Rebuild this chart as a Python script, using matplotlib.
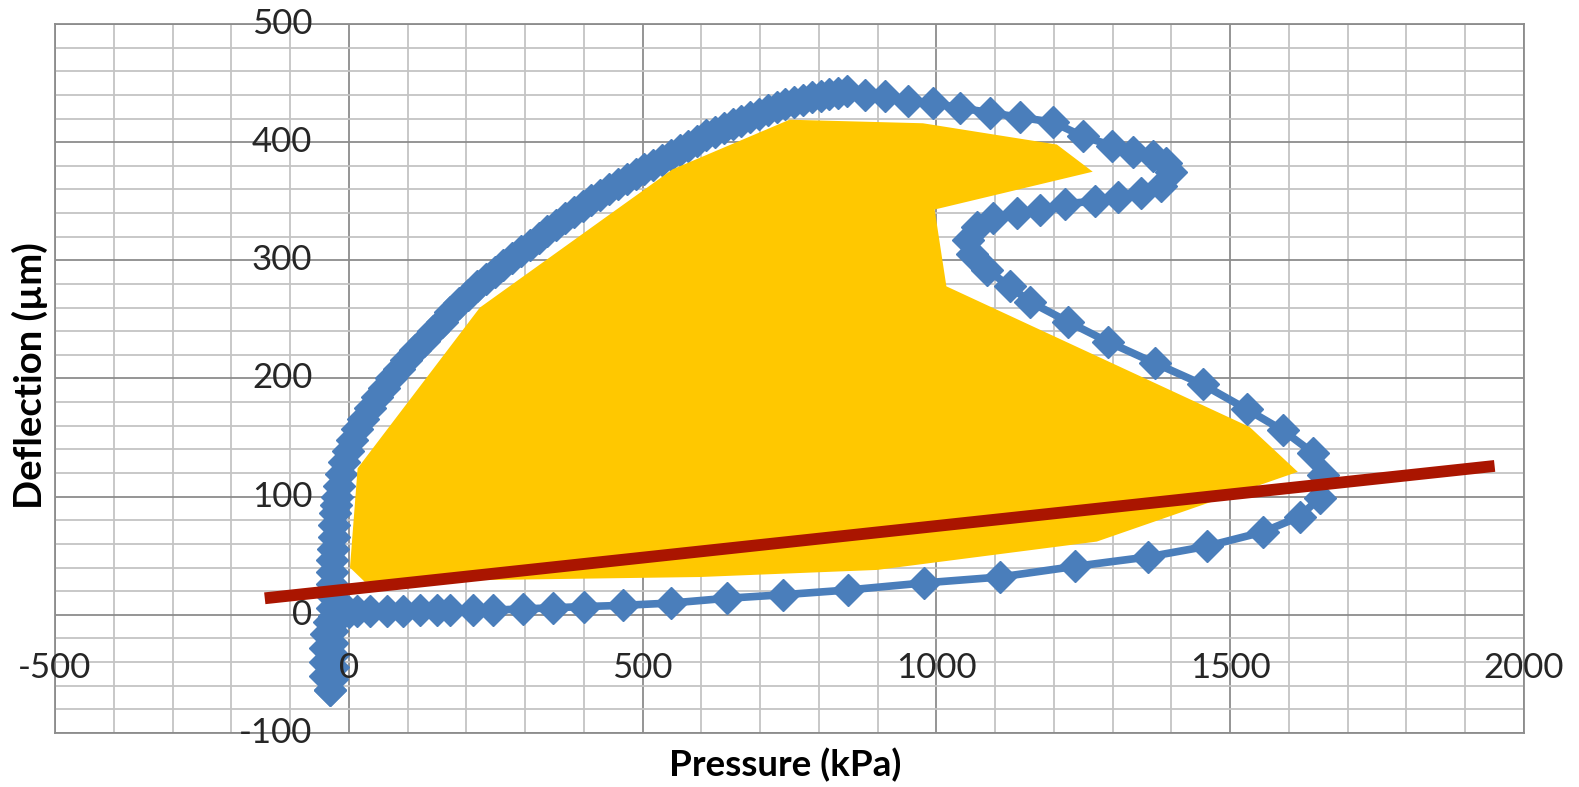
import matplotlib
matplotlib.use("Agg")
import matplotlib.pyplot as plt
from matplotlib.ticker import MultipleLocator

# ---- data -------------------------------------------------------------
# blue measured loop (Pressure kPa, Deflection um), split in drawing order
start_p = [-32, -40, -41, -41, -39, -34, -25, -12]
start_d = [-64, -52, -40, -28, -16, -6, -1, 1]

load_p = [0, 14, 36, 65, 92, 121, 150, 172, 211, 245, 296, 347, 401, 466, 549,
          643, 739, 849, 979, 1108, 1236, 1360, 1460, 1555, 1618, 1652, 1658]
load_d = [2, 3, 3, 3, 3, 4, 4, 4, 4, 4, 5, 6, 7, 8, 10,
          14, 17, 21, 27, 32, 41, 49, 58, 70, 83, 99, 118]

hook_p = [1641, 1590, 1528, 1453, 1372, 1292, 1224, 1159, 1125, 1086,
          1060, 1053, 1069, 1096, 1137, 1176, 1219, 1270, 1309, 1348,
          1382, 1400, 1390, 1368, 1334, 1299, 1249, 1198, 1142, 1091,
          1040, 994, 951, 912, 878]
hook_d = [137, 156, 174, 195, 213, 231, 248, 265, 278, 292,
          305, 317, 328, 336, 340, 343, 348, 350, 354, 357,
          363, 375, 382, 388, 392, 397, 405, 417, 421, 425,
          429, 433, 435, 439, 440]

top_p = [848, 833, 818, 803, 788, 773, 758, 743, 728, 713,
         698, 683, 668, 653, 638, 623, 608, 593, 578, 563,
         548, 533, 518, 503, 488, 473, 458, 443, 428, 413,
         398, 383, 368, 353, 338, 323, 308]
top_d = [443, 442, 441, 439, 438, 436, 434, 432, 430, 427,
         424, 421, 418, 415, 412, 409, 406, 401, 397, 393,
         389, 385, 381, 377, 373, 369, 365, 360, 355, 351,
         346, 341, 336, 330, 325, 319, 313]

down_p = [293, 278, 263, 248, 233, 218, 203, 188, 173, 158,
          143, 128, 113, 98, 85, 72, 60, 48, 36, 25,
          14, 5, -2, -8, -13, -17, -20, -22, -24, -25,
          -26, -27, -28, -28, -29, -29, -29, -29, -28, -28,
          -27, -27, -28, -32]
down_d = [308, 302, 296, 290, 284, 278, 271, 264, 256, 248,
          240, 232, 224, 216, 208, 200, 192, 184, 175, 166,
          157, 148, 139, 129, 119, 109, 100, 93, 86, 76,
          66, 56, 46, 36, 26, 16, 6, -4, -14, -24,
          -34, -44, -54, -64]

pressure = start_p + load_p + hook_p + top_p + down_p
deflection = start_d + load_d + hook_d + top_d + down_d

# yellow region outline
region_p = [15, 223, 551, 750, 977, 1205, 1266, 997, 1017, 1533, 1615, 1273, 899, 597, 27, 2]
region_d = [124, 260, 377, 419, 416, 398, 375, 343, 278, 159, 121, 62, 38, 32, 28, 40]

# red straight line
line_p = [-143, 1950]
line_d = [14, 126]

x_ticks = [-500, 0, 500, 1000, 1500, 2000]
y_ticks = [-100, 0, 100, 200, 300, 400, 500]

# ---- figure -----------------------------------------------------------
W, H = 1579, 787
fig = plt.figure(figsize=(W / 100, H / 100), dpi=100)
ax = fig.add_axes([55 / W, (H - 733) / H, (1524 - 55) / W, (733 - 24) / H])
ax.set_xlim(-500, 2000)
ax.set_ylim(-100, 500)

ax.xaxis.set_major_locator(MultipleLocator(500))
ax.xaxis.set_minor_locator(MultipleLocator(100))
ax.yaxis.set_major_locator(MultipleLocator(100))
ax.yaxis.set_minor_locator(MultipleLocator(20))
ax.grid(which="major", color="#8C8C8C", lw=1.3)
ax.grid(which="minor", color="#C4C4C4", lw=1.3)
ax.set_axisbelow(True)
ax.tick_params(which="both", length=0, labelbottom=False, labelleft=False)
for s in ax.spines.values():
    s.set_color("#8C8C8C")
    s.set_linewidth(1.3)

ax.plot(pressure, deflection, color="#4A7EBB", lw=5.5, marker="D", ms=16.5,
        mec="#4A7EBB", mfc="#4A7EBB", mew=1, zorder=3)
ax.fill(region_p, region_d, color="#FFC800", lw=0, zorder=4)
ax.plot(line_p, line_d, color="#AA1500", lw=8.5, solid_capstyle="butt", zorder=5)

font = "Lato"
for v in y_ticks:
    ax.text(-62, v, str(v), ha="right", va="center", fontsize=25,
            family=font, color="#262626", zorder=6)
for v in x_ticks:
    ax.text(v, -45, str(v), ha="center", va="center", fontsize=25,
            family=font, color="#262626", zorder=6)

fig.text(785 / W, 1 - 765 / H, "Pressure (kPa)", ha="center", va="center",
         fontsize=26.5, fontweight="bold", family=font, color="#000000")
fig.text(30 / W, 1 - 376 / H, "Deflection (µm)", ha="center", va="center",
         rotation=90, fontsize=27.5, fontweight="bold", family=font, color="#000000")

fig.savefig("out.png", dpi=100)
